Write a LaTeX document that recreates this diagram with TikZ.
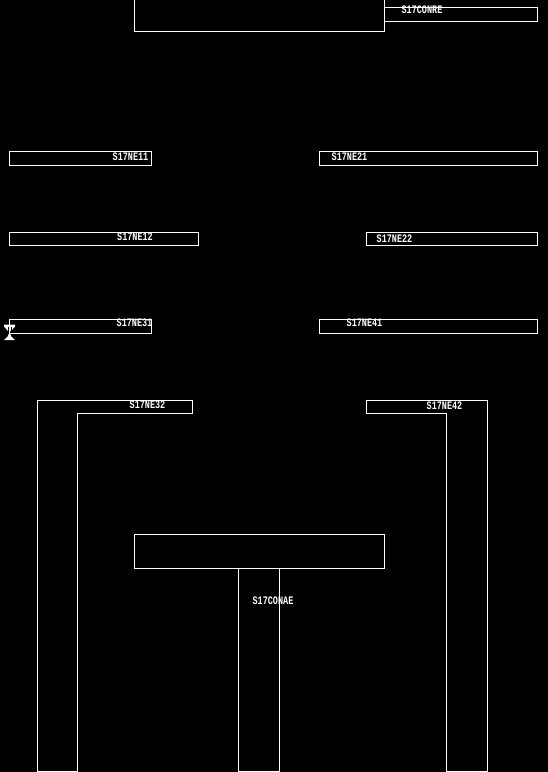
\documentclass[tikz,border=0pt]{standalone}
\usepackage{fontspec}
\newfontfamily\labfont[FakeStretch=0.74]{Liberation Mono}
\tikzset{
  px/.style={x=0.75pt,y=-0.75pt},
  wire/.style={draw=white,line width=0.75pt,fill=none},
  lab/.style={text=white,font=\labfont\bfseries\fontsize{8.6}{9}\selectfont,inner sep=0pt,anchor=center}
}
\begin{document}
\begin{tikzpicture}[px]
\useasboundingbox[fill=black] (0,0) rectangle (548,772);
\draw[wire] (134.5,-2) -- (134.5,31.5) -- (384.5,31.5) -- (384.5,-2);
\draw[wire] (384.5,7.5) rectangle (537.5,21.5);
\node[lab] (cr) at (422,9.5) {S17CONRE};
\draw[wire] (9.5,151.5) rectangle (151.5,165.5);
\node[lab] (a) at (130.5,157) {S17NE11};
\draw[wire] (319.5,151.5) rectangle (537.5,165.5);
\node[lab] (b) at (349.5,157) {S17NE21};
\draw[wire] (9.5,232.5) rectangle (198.5,245.5);
\node[lab] (c) at (135,237) {S17NE12};
\draw[wire] (366.5,232.5) rectangle (537.5,245.5);
\node[lab] (d) at (394.5,239) {S17NE22};
\draw[wire] (9.5,319.5) rectangle (151.5,333.5);
\node[lab] (e) at (134.5,323) {S17NE31};
\draw[wire] (319.5,319.5) rectangle (537.5,333.5);
\node[lab] (f) at (364.5,323) {S17NE41};
\fill[white] (4,324.5) -- (15,324.5) -- (15,326.5) -- (11,331) -- (8,331) -- (4,326.5) -- cycle;
\draw[black,line width=0.75pt] (8,326.5) -- (8,332) (11,326.5) -- (11,332);
\draw[wire] (9.5,326) -- (9.5,334);
\fill[white] (4,340) -- (15,340) -- (11,336) -- (10.2,333.5) -- (8.8,333.5) -- (8,336) -- cycle;
\draw[wire] (37.5,772) -- (37.5,400.5) -- (192.5,400.5) -- (192.5,413.5) -- (77.5,413.5) -- (77.5,772);
\draw[wire] (37.5,771.5) -- (77.5,771.5);
\node[lab] (g) at (147.5,405) {S17NE32};
\draw[wire] (487.5,772) -- (487.5,400.5) -- (366.5,400.5) -- (366.5,413.5) -- (446.5,413.5) -- (446.5,772);
\draw[wire] (446.5,771.5) -- (487.5,771.5);
\node[lab] (h) at (444.5,406) {S17NE42};
\draw[wire] (134.5,534.5) rectangle (384.5,568.5);
\draw[wire] (238.5,568.5) -- (238.5,771.5) -- (279.5,771.5) -- (279.5,568.5);
\node[lab] (i) at (273,601) {S17CONAE};
\end{tikzpicture}
\end{document}
